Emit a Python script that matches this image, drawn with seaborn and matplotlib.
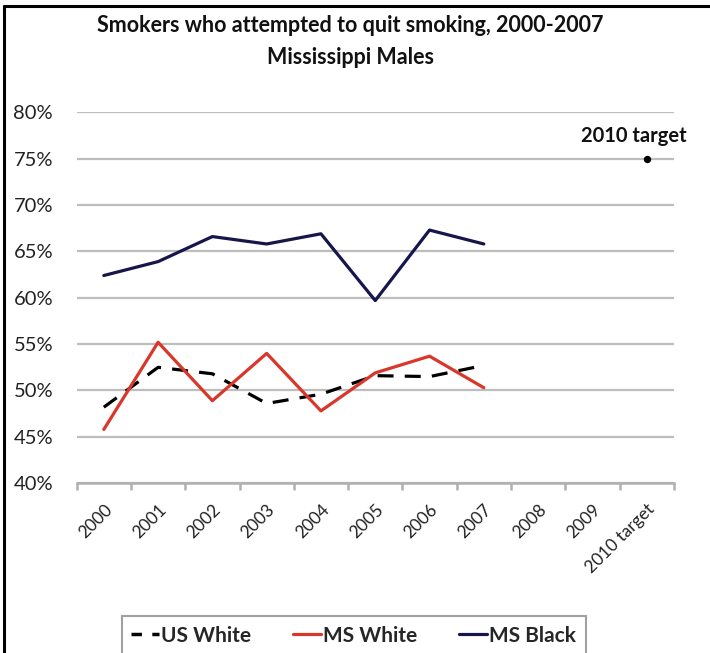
import matplotlib
matplotlib.use("Agg")
import matplotlib.pyplot as plt
from matplotlib.lines import Line2D
from matplotlib.ticker import FuncFormatter
import seaborn as sns
import pandas as pd

# Percent of smokers who attempted to quit, by year
years = ["2000", "2001", "2002", "2003", "2004", "2005", "2006", "2007"]
categories = years + ["2008", "2009", "2010 target"]
us_white = [48.2, 52.5, 51.8, 48.6, 49.6, 51.6, 51.5, 52.7]
ms_white = [45.8, 55.2, 48.9, 54.0, 47.8, 51.9, 53.7, 50.3]
ms_black = [62.4, 63.9, 66.6, 65.8, 66.9, 59.7, 67.3, 65.8]
target_label = "2010 target"
target_value = 75.0
series_names = ["US White", "MS White", "MS Black"]

rows = []
for name, vals in zip(series_names, [us_white, ms_white, ms_black]):
    for i, v in enumerate(vals):
        rows.append({"pos": i, "value": v, "series": name})
df = pd.DataFrame(rows)
target_df = pd.DataFrame({"pos": [categories.index(target_label)], "value": [target_value]})

sns.set_theme(style="white")
plt.rcParams["font.family"] = ["Lato", "DejaVu Sans"]

fig = plt.figure(figsize=(7.10, 6.53), dpi=100)
ax = fig.add_axes([0.108, 0.260, 0.841, 0.568])

palette = {"US White": "#000000", "MS White": "#d9372b", "MS Black": "#16164a"}
dashes = {"US White": (5, 3.5), "MS White": "", "MS Black": ""}
sns.lineplot(data=df, x="pos", y="value", hue="series", style="series",
             palette=palette, dashes=dashes, hue_order=series_names,
             style_order=series_names, linewidth=2.3, ax=ax, legend=False,
             zorder=3)
sns.scatterplot(data=target_df, x="pos", y="value", color="black", s=28,
                linewidth=0, ax=ax, zorder=4, legend=False)
ax.annotate(target_label, (target_df["pos"][0], target_value),
            xytext=(-9, 9), textcoords="offset points", ha="center",
            va="bottom", fontsize=14.5, fontweight="bold", color="#111111")

ax.set_xlim(-0.5, len(categories) - 0.5)
ax.set_ylim(40, 80)
ax.set_yticks(range(40, 81, 5))
ax.yaxis.set_major_formatter(FuncFormatter(lambda v, _: f"{v:.0f}%"))
ax.grid(axis="y", color="#bdbdbd", linewidth=1.6)
ax.set_axisbelow(True)
for s in ["top", "right", "left"]:
    ax.spines[s].set_visible(False)
ax.spines["bottom"].set_color("#b0b0b0")
ax.spines["bottom"].set_linewidth(1.8)
ax.spines["bottom"].set_zorder(1)

ax.set_xticks(range(len(categories)))
ax.set_xticklabels(categories, rotation=45, ha="right", va="top",
                   rotation_mode="anchor", fontsize=12.5, color="#222222")
ax.tick_params(axis="x", which="both", length=0, pad=13)
# category boundary ticks along the bottom axis
ax.set_xticks([i - 0.5 for i in range(len(categories) + 1)], minor=True)
ax.tick_params(axis="x", which="minor", length=5, width=1.8, color="#b0b0b0",
               direction="out", bottom=True)
ax.tick_params(axis="y", length=0, labelsize=14.5, labelcolor="#222222", pad=17)
ax.set_xlabel("")
ax.set_ylabel("")

fig.text(0.493, 0.961, "Smokers who attempted to quit smoking, 2000-2007",
         ha="center", va="center", fontsize=15.5, fontweight="bold", color="#111111")
fig.text(0.493, 0.912, "Mississippi Males", ha="center", va="center",
         fontsize=15.5, fontweight="bold", color="#111111")

handles = [Line2D([], [], color=palette[n], linewidth=2.3) for n in series_names]
handles[0] = Line2D([], [], color="black", linewidth=2.5, linestyle=(0, (3, 3)))
leg = fig.legend(handles, series_names, loc="upper center", ncol=3,
                 bbox_to_anchor=(0.498, 0.072), frameon=True, fancybox=False,
                 edgecolor="#8a8a8a", handlelength=1.35, handletextpad=0.1,
                 columnspacing=2.0, borderpad=0.45,
                 prop={"size": 15, "weight": "bold"})
leg.get_frame().set_linewidth(1.5)

# outer frame
fig.add_artist(Line2D([0.005, 1.0], [0.991, 0.991], color="black", linewidth=2.2,
                      transform=fig.transFigure))
fig.add_artist(Line2D([0.005, 0.005], [0.0, 0.991], color="black", linewidth=2.2,
                      transform=fig.transFigure))

fig.savefig("out.png", dpi=100)
